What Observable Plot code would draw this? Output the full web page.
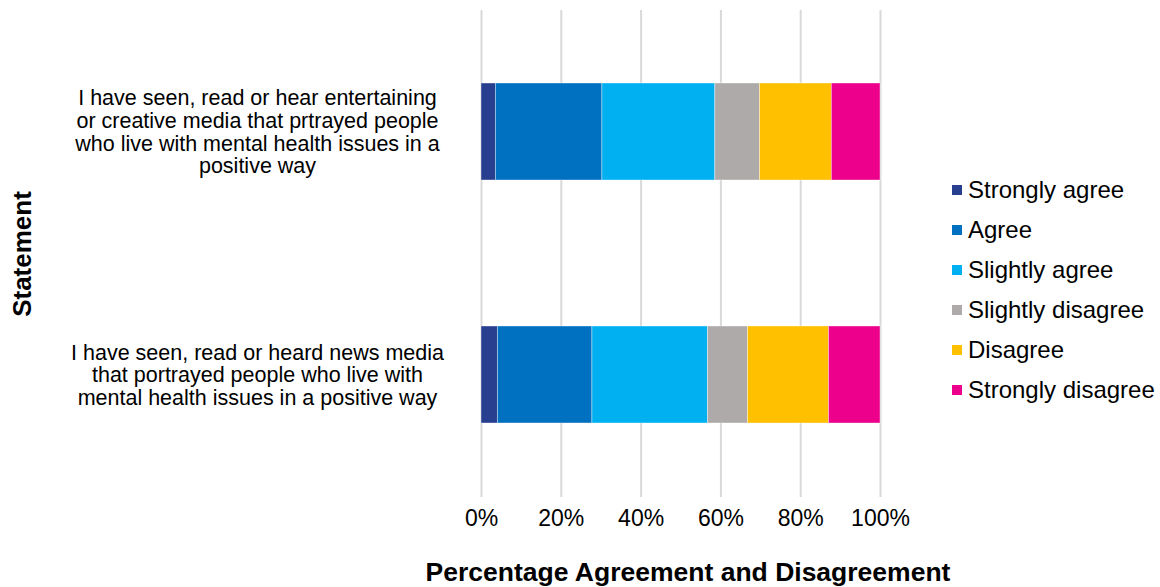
<!DOCTYPE html>
<html><head><meta charset="utf-8">
<script src="https://cdn.jsdelivr.net/npm/d3@7"></script>
<script src="https://cdn.jsdelivr.net/npm/@observablehq/plot@0.6"></script>
<style>
body{margin:0;background:#fff;font-family:"Liberation Sans",Arial,Helvetica,sans-serif;}
#wrap{position:relative;width:1160px;height:587px;}
#legend{position:absolute;left:952px;top:170px;}
.item{position:absolute;left:0;height:40px;display:flex;align-items:center;white-space:nowrap;font-size:24px;color:#000;}
.sw{width:10px;height:10px;margin-right:6px;flex:none;}
</style></head><body><div id="wrap"></div>
<script>
const statements = [
  "I have seen, read or hear entertaining or creative media that prtrayed people who live with mental health issues in a positive way",
  "I have seen, read or heard news media that portrayed people who live with mental health issues in a positive way"
];
const statementLabels = [
  "I have seen, read or hear entertaining\nor creative media that prtrayed people\nwho live with mental health issues in a\npositive way",
  "I have seen, read or heard news media\nthat portrayed people who live with\nmental health issues in a positive way"
];
const responses = ["Strongly agree","Agree","Slightly agree","Slightly disagree","Disagree","Strongly disagree"];
const colors = ["#283f8f","#0070c0","#00b0f0","#aeaaaa","#ffc000","#ec008c"];
const entertainingValues = [3.6, 26.7, 28.3, 11.2, 18.0, 12.2];
const newsValues = [4.1, 23.7, 28.95, 10.05, 20.3, 12.9];
const xTicks = [0, 20, 40, 60, 80, 100];
const xTitle = "Percentage Agreement and Disagreement";
const yTitle = "Statement";

const seriesByStatement = [entertainingValues, newsValues];
const data = [];
statements.forEach((s, i) => responses.forEach((r, j) => data.push({statement: s, response: r, value: seriesByStatement[i][j]})));
const labelOf = new Map(statements.map((s, i) => [s, statementLabels[i]]));

const font = '"Liberation Sans", Arial, Helvetica, sans-serif';
const plot = Plot.plot({
  width: 1160, height: 587,
  marginLeft: 481, marginRight: 280, marginTop: 10, marginBottom: 90,
  style: {fontFamily: font, fontSize: "23px", color: "#000", background: "#fff", overflow: "visible"},
  x: {domain: [0, 100], ticks: xTicks, tickFormat: d => d + "%", axis: null},
  y: {domain: statements, paddingInner: 0.6, paddingOuter: 0.3, axis: null},
  color: {domain: responses, range: colors},
  marks: [
    Plot.gridX(xTicks, {stroke: "#d9d9d9", strokeOpacity: 1, strokeWidth: 2}),
    Plot.barX(data, Plot.stackX({y: "statement", x: "value", fill: "response", order: responses, stroke: "white", strokeOpacity: 0.5, strokeWidth: 0.75})),
    Plot.axisX(xTicks, {tickSize: 0, tickPadding: 12, tickFormat: d => d + "%", label: null, fontSize: 23}),
    Plot.text(statements, {y: d => d, text: d => labelOf.get(d), frameAnchor: "left", dx: -224, textAnchor: "middle", lineAnchor: "middle", lineHeight: 1.05, fontSize: 21.5, fill: "#000"}),
    Plot.text([yTitle], {frameAnchor: "left", dx: -459, rotate: -90, textAnchor: "middle", lineAnchor: "middle", fontWeight: "bold", fontSize: 26, fill: "#000"}),
    Plot.text([xTitle], {frameAnchor: "bottom", dx: 7, dy: 75, textAnchor: "middle", lineAnchor: "middle", fontWeight: "bold", fontSize: 26.5, fill: "#000"})
  ]
});
const wrap = document.getElementById("wrap");
wrap.appendChild(plot);
const legend = document.createElement("div");
legend.id = "legend";
responses.forEach((r, i) => {
  const it = document.createElement("div");
  it.className = "item";
  it.style.top = (i * 40) + "px";
  const sw = document.createElement("span");
  sw.className = "sw";
  sw.style.background = colors[i];
  const tx = document.createElement("span");
  tx.textContent = r;
  it.appendChild(sw); it.appendChild(tx);
  legend.appendChild(it);
});
wrap.appendChild(legend);
</script></body></html>
